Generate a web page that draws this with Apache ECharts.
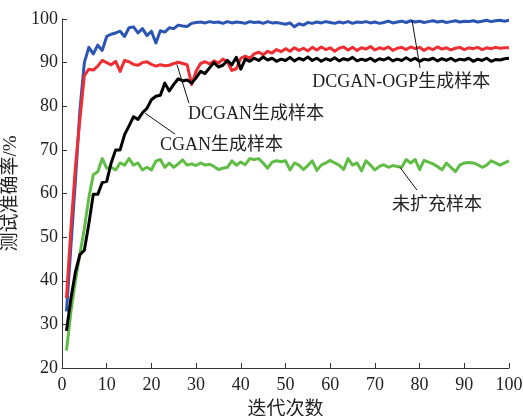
<!DOCTYPE html>
<html>
<head>
<meta charset="utf-8">
<script src="https://cdn.jsdelivr.net/npm/echarts@6/dist/echarts.min.js"></script>
<style>
  html, body { margin: 0; padding: 0; background: #fff; }
  #chart { width: 523px; height: 416px; }
</style>
</head>
<body>
<div id="chart"></div>
<script>
// Test accuracy (%) per iteration, iterations 1..100
const iterations = Array.from({ length: 100 }, (_, i) => i + 1);

const dcganOgp = [
  33, 48, 63, 79, 90, 93.5, 92, 94, 92.8, 96,
  96.5, 96.8, 97.2, 96, 98, 98.2, 96.8, 97.8, 96.2, 97.2,
  94.5, 97.3, 97, 98, 97.8, 98.6, 98.4, 98.3, 99, 99.2,
  99.3, 99.1, 99.4, 99.2, 99.3, 99, 99.4, 99.1, 99.3, 99.2,
  99, 99.4, 99.2, 99.3, 99, 99.4, 99.1, 99.2, 99, 98.8,
  99.1, 98.2, 98.9, 98.6, 99.2, 99, 99.3, 99.1, 99.4, 99.2,
  99, 99.3, 99.1, 99.4, 99, 99.3, 99.2, 99.4, 99.1, 99.3,
  99, 99.2, 99.5, 99.1, 99.3, 99.5, 99.2, 99.6, 99.3, 99.5,
  99.2, 99.4, 99.6, 99.3, 99.5, 99.2, 99.4, 99.6, 99.3, 99.5,
  99.4, 99.6, 99.3, 99.5, 99.7, 99.4, 99.6, 99.7, 99.5, 99.7
];

const dcgan = [
  36, 52, 66, 77, 87, 88.5, 88.3, 89.2, 90.5, 90,
  89.5, 90.3, 88, 90.5, 90.2, 89.6, 89.4, 90, 90.2, 89.6,
  89.2, 89.5, 89.3, 89.4, 89.8, 90.1, 89.8, 89.5, 85, 88,
  89.8, 90.2, 89.7, 90.4, 89.9, 90.8, 90.2, 88.2, 88.6, 91,
  91.5, 91, 92, 92.4, 91.8, 92.6, 92.2, 93, 92.5, 93.2,
  92.6, 93.4, 92.8, 93.3, 92.7, 93.5, 92.9, 93.6, 93, 93.4,
  92.6, 93.3, 93.6, 92.9, 93.5, 92.8, 93.4, 93.1, 93.7, 92.9,
  93.4, 93.1, 93.6, 92.8, 93.3, 93.5, 93, 93.6, 93.2, 93.5,
  92.8, 93.4, 93, 93.6, 93.1, 93.4, 92.9, 93.3, 93.5, 93,
  93.4, 93.2, 93.5, 93, 93.4, 93.2, 93.5, 93.3, 93.4, 93.4
];

const cgan = [
  28.5, 36, 42, 46, 47, 53, 59.8, 59.8, 62.5, 62.8,
  67, 70, 70, 73.5, 75.5, 77.6, 77, 78.5, 79.5, 81.5,
  82.3, 82.5, 85.3, 83.5, 85, 86.3, 85.8, 86, 85.3, 86.5,
  88, 87.5, 88.8, 90, 89, 89.4, 90.5, 89.5, 91.2, 88.5,
  90.8, 90.3, 91, 90.5, 91.3, 90.6, 91, 90.3, 90.8, 90.5,
  91.2, 90.4, 91, 90.6, 91.3, 90.5, 91, 90.3, 90.9, 90.5,
  91.1, 90.4, 90.9, 90.6, 91.2, 90.4, 90.8, 90.5, 91, 90.3,
  90.9, 90.6, 91.1, 90.4, 90.8, 90.5, 91.1, 90.5, 91, 90.3,
  90.8, 90.6, 91, 90.4, 90.9, 90.5, 91, 90.4, 90.8, 90.6,
  91, 90.3, 90.8, 90.5, 91, 90.3, 90.7, 90.6, 90.9, 91
];

const original = [
  24, 33, 40, 46, 52, 59, 64.3, 65, 68, 65.8,
  66, 65.4, 67, 66.5, 68, 66.5, 67, 65.4, 66, 65.4,
  67.4, 67.8, 66, 67, 66, 66.8, 67.7, 66.5, 66.8, 66.4,
  67, 66.5, 66.7, 66.2, 65.5, 65.8, 66, 67.5, 66.5, 67.2,
  66.6, 68, 67.8, 68, 67, 65.8, 67.2, 67.5, 67.3, 67.5,
  65.4, 67, 66.5, 65.5, 66.4, 67.5, 65.3, 66.5, 67, 67.6,
  67, 66.5, 65.5, 68, 66.5, 67, 65.2, 67.5, 66.5, 65.4,
  66.2, 66.6, 66, 66.4, 66.2, 66, 67.8, 67, 67.8, 65.5,
  67.6, 67.2, 66.8, 66.2, 65.4, 67, 66, 65, 66.5, 67,
  67.1, 67, 66.6, 66, 66.5, 67.5, 67, 66.5, 67, 67.5
];

const xTicks = [0, 10, 20, 30, 40, 50, 60, 70, 80, 90, 100];
const yTicks = [20, 30, 40, 50, 60, 70, 80, 90, 100];

// Callout labels: text, text anchor [x, y], leader line from curve point to label
const callouts = [
  { text: 'DCGAN-OGP生成样本', at: [56.0, 85.6], from: [78.3, 99.7], to: [80.1, 88.8] },
  { text: 'DCGAN生成样本', at: [28.2, 78.2], from: [25.7, 89.6], to: [28.4, 80.7] },
  { text: 'CGAN生成样本', at: [21.9, 71.0], from: [18.6, 78.4], to: [25.3, 73.6] },
  { text: '未扩充样本', at: [73.8, 57.2], from: [75.6, 66.0], to: [79.4, 60.8] }
];

const FONT = '"Liberation Serif", "Noto Sans CJK SC", serif';
const pairs = vals => iterations.map((x, i) => [x, vals[i]]);

const chart = echarts.init(document.getElementById('chart'), null, { renderer: 'canvas' });

const lineSeries = (name, vals, color, z) => ({
  name, type: 'line', data: pairs(vals), showSymbol: false, symbol: 'none',
  lineStyle: { color, width: 3, join: 'round' }, z, animation: false
});

chart.setOption({
  animation: false,
  backgroundColor: '#fff',
  grid: { left: 62, right: 14, top: 19, bottom: 48, containLabel: false, outerBoundsMode: 'none' },
  xAxis: {
    type: 'value', min: xTicks[0], max: xTicks[xTicks.length - 1], interval: 10,
    name: '迭代次数', nameLocation: 'middle', nameGap: 33,
    nameTextStyle: { fontFamily: FONT, fontSize: 19, color: '#222' },
    axisLine: { show: true, lineStyle: { color: '#333', width: 1 } },
    axisTick: { show: true, inside: true, length: 5, lineStyle: { color: '#333' } },
    axisLabel: { fontFamily: FONT, fontSize: 18, color: '#222', margin: 8 },
    splitLine: { show: false }
  },
  yAxis: {
    type: 'value', min: yTicks[0], max: yTicks[yTicks.length - 1], interval: 10,
    name: '测试准确率/%', nameLocation: 'middle', nameGap: 38, nameRotate: 90,
    nameTextStyle: { fontFamily: FONT, fontSize: 19, color: '#222' },
    axisLine: { show: true, lineStyle: { color: '#333', width: 1 } },
    axisTick: { show: true, inside: true, length: 5, lineStyle: { color: '#333' } },
    axisLabel: { fontFamily: FONT, fontSize: 18, color: '#222', margin: 4 },
    splitLine: { show: false }
  },
  series: [
    lineSeries('未扩充样本', original, '#5fbd45', 2),
    lineSeries('DCGAN-OGP生成样本', dcganOgp, '#2b55b5', 3),
    lineSeries('DCGAN生成样本', dcgan, '#ee2e33', 4),
    lineSeries('CGAN生成样本', cgan, '#000000', 5)
  ]
});

// Place callout texts and leader lines in data space
const graphics = [];
callouts.forEach(c => {
  const p1 = chart.convertToPixel({ gridIndex: 0 }, c.from);
  const p2 = chart.convertToPixel({ gridIndex: 0 }, c.to);
  const pt = chart.convertToPixel({ gridIndex: 0 }, c.at);
  graphics.push({
    type: 'line', z: 10, silent: true,
    shape: { x1: p1[0], y1: p1[1], x2: p2[0], y2: p2[1] },
    style: { stroke: '#111', lineWidth: 1 }
  });
  graphics.push({
    type: 'text', z: 10, silent: true, x: pt[0], y: pt[1],
    style: { text: c.text, font: '18px ' + FONT, fill: '#222', textAlign: 'left', textVerticalAlign: 'middle' }
  });
});
chart.setOption({ graphic: graphics });
</script>
</body>
</html>
